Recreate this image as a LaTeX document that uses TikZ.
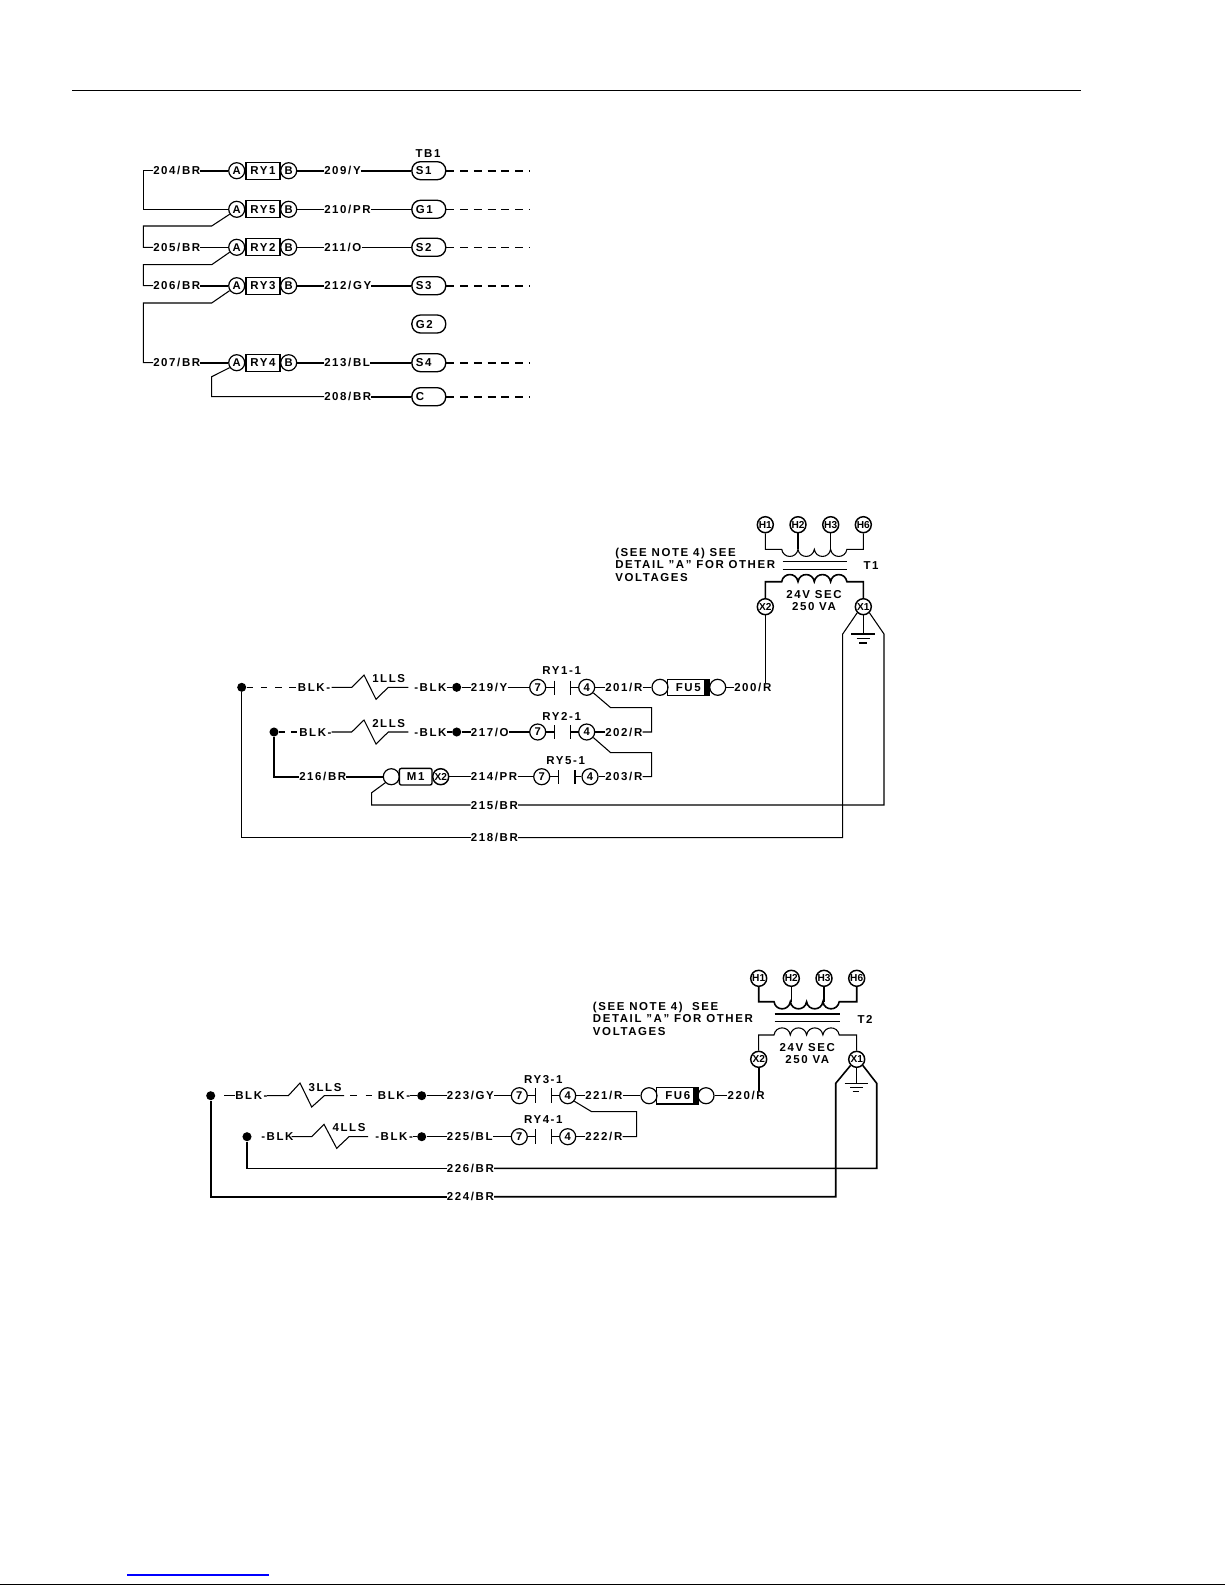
\documentclass[tikz,border=0pt]{standalone}
\usepackage{fontspec}
\setmainfont[LetterSpace=14]{Liberation Sans}
\newfontfamily\pinfont{Liberation Sans}
\newcommand{\coil}[1]{.. controls +(1.5,#1) and +(-1.5,#1) .. ++(16.3,0) .. controls +(1.5,#1) and +(-1.5,#1) .. ++(16.3,0) .. controls +(1.5,#1) and +(-1.5,#1) .. ++(16.3,0) .. controls +(1.5,#1) and +(-1.5,#1) .. ++(16.3,0)}

\begin{document}
\begin{tikzpicture}[
  x=0.75pt, y=-0.75pt,
  every node/.style={font=\fontsize{8.6}{9.4}\selectfont\bfseries, inner sep=0pt},
  wire/.style={line width=0.8pt},
  heavy/.style={line width=1.2pt},
  lbl/.style={anchor=west, text height=6pt, text depth=0pt},
  pin/.style={circle, draw, line width=0.9pt, minimum size=12pt, font=\fontsize{8.4}{9}\pinfont\bfseries, text height=5.8pt, text depth=0pt},
  hpin/.style={pin, line width=1.1pt, font=\fontsize{7.6}{8}\pinfont\bfseries, text height=5.4pt},
  relay/.style={rectangle, draw, line width=1pt, minimum width=25.5pt, minimum height=12.75pt, text height=6pt, text depth=0pt},
  pill/.style={rectangle, draw, line width=1pt, rounded corners=6.4pt, minimum height=13.5pt, text width=19.4pt, inner xsep=3pt, align=left, text height=6pt, text depth=0pt},
  dot/.style={circle, fill=black, minimum size=6.8pt},
  fuse/.style={rectangle, draw, line width=1pt, minimum width=31.5pt, minimum height=12.2pt, text height=6pt, text depth=0pt},
  band/.style={rectangle, fill=black, minimum width=3.6pt, minimum height=12.6pt},
  dashwire/.style={wire, dash pattern=on 6pt off 4.3pt},
  note/.style={anchor=north west, align=left},
]
\useasboundingbox (0,0) rectangle (1225,1585);

% Top rule and page foot
\coordinate (ruleA) at (72,90.5);
\coordinate (ruleB) at (1081,90.5);
\draw[wire] (ruleA) -- (ruleB);
\coordinate (linkA) at (127,1575);
\coordinate (linkB) at (269,1575);
\draw[blue, wire] (linkA) -- (linkB);
\coordinate (footA) at (0,1584.4);
\coordinate (footB) at (1225,1584.4);
\draw[wire] (footA) -- (footB);

% Relay block
\node (tb) at (428,154) {TB1};
\node[lbl] (w204) at (153,170.7) {204/BR};
\node[lbl] (w205) at (153,247.3) {205/BR};
\node[lbl] (w206) at (153,285.7) {206/BR};
\node[lbl] (w207) at (153,362.7) {207/BR};
\node[pin] (a1) at (236.7,170.7) {A};
\node[pin] (a5) at (236.7,209.3) {A};
\node[pin] (a2) at (236.7,247.3) {A};
\node[pin] (a3) at (236.7,285.7) {A};
\node[pin] (a4) at (236.7,362.7) {A};
\node[relay] (ry1) at (263,170.7) {RY1};
\node[relay] (ry5) at (263,209.3) {RY5};
\node[relay] (ry2) at (263,247.3) {RY2};
\node[relay] (ry3) at (263,285.7) {RY3};
\node[relay] (ry4) at (263,362.7) {RY4};
\node[pin] (b1) at (288.7,170.7) {B};
\node[pin] (b5) at (288.7,209.3) {B};
\node[pin] (b2) at (288.7,247.3) {B};
\node[pin] (b3) at (288.7,285.7) {B};
\node[pin] (b4) at (288.7,362.7) {B};
\node[lbl] (w209) at (324,170.7) {209/Y};
\node[lbl] (w210) at (324,209.3) {210/PR};
\node[lbl] (w211) at (324,247.3) {211/O};
\node[lbl] (w212) at (324,285.7) {212/GY};
\node[lbl] (w213) at (324,362.7) {213/BL};
\node[lbl] (w208) at (324,396.7) {208/BR};
\node[pill] (s1) at (428.8,170.7) {S1};
\node[pill] (g1) at (428.8,209.3) {G1};
\node[pill] (s2) at (428.8,247.3) {S2};
\node[pill] (s3) at (428.8,285.7) {S3};
\node[pill] (g2) at (428.8,324) {G2};
\node[pill] (s4) at (428.8,362.7) {S4};
\node[pill] (cc) at (428.8,396.7) {C};
\coordinate (e1) at (530,170.7);
\coordinate (e5) at (530,209.3);
\coordinate (e2) at (530,247.3);
\coordinate (e3) at (530,285.7);
\coordinate (e4) at (530,362.7);
\coordinate (e6) at (530,396.7);

\draw[heavy] (w204) -- (a1);
\draw[heavy] (b1) -- (w209);
\draw[heavy] (w209) -- (s1);
\draw[wire] (b5) -- (w210);
\draw[wire] (w210) -- (g1);
\draw[wire] (w205) -- (a2);
\draw[wire] (b2) -- (w211);
\draw[wire] (w211) -- (s2);
\draw[heavy] (w206) -- (a3);
\draw[heavy] (b3) -- (w212);
\draw[heavy] (w212) -- (s3);
\draw[heavy] (w207) -- (a4);
\draw[heavy] (b4) -- (w213);
\draw[heavy] (w213) -- (s4);
\draw[heavy] (w208) -- (cc);
\draw[wire] (w204.west) -- (143.3,170.7) |- (a5.west);
\draw[wire] (a5.215) -- (211.7,226) -- (143.3,226) |- (w205.west);
\draw[wire] (a2.215) -- (211.7,264.7) -- (143.3,264.7) |- (w206.west);
\draw[wire] (a3.215) -- (211.7,303) -- (143.3,303) |- (w207.west);
\draw[wire] (a4.215) -- (211.7,376.7) |- (w208.west);
\draw[dashwire, line width=1.2pt] (s1) -- (e1);
\draw[dashwire] (g1) -- (e5);
\draw[dashwire] (s2) -- (e2);
\draw[dashwire, line width=1.2pt] (s3) -- (e3);
\draw[dashwire, line width=1.2pt] (s4) -- (e4);
\draw[dashwire, line width=1.2pt] (cc) -- (e6);

% Transformer T1
\node[hpin] (h1) at (765.3,524.7) {H1};
\node[hpin] (h2) at (798,524.7) {H2};
\node[hpin] (h3) at (830.7,524.7) {H3};
\node[hpin] (h6) at (863.3,524.7) {H6};
\node[hpin] (x2) at (765.3,606.7) {X2};
\node[hpin] (x1) at (863.3,606.7) {X1};
\node[note] (n1) at (615,547.5) {(SEE NOTE 4) SEE\\DETAIL "A" FOR OTHER\\VOLTAGES};
\node (t1) at (871,566) {T1};
\node (sec1) at (814,594.7) {24V SEC};
\node (va1) at (814,606.7) {250 VA};
\coordinate (ca) at (781.7,549.3);
\coordinate (cb) at (781.7,581.7);
\coordinate (gnd1) at (863.3,634);
\coordinate (gl1) at (842.7,634);
\coordinate (gr1) at (884,634);
\draw[wire] (h1.south) |- (ca) \coil{9.5} -| (h6.south);
\draw[heavy] (h2.south) -- (h2.south |- ca);
\draw[wire] (h3.south) -- (h3.south |- ca);
\draw[wire] (782.7,561.3) -- (846.7,561.3);
\draw[wire] (782.7,569.3) -- (846.7,569.3);
\draw[heavy] (x2.north) |- (cb) \coil{-9.5} -| (x1.north);
\draw[wire] (x1.south) -- (gnd1);
\draw[wire] (851.3,634) -- (875.3,634);
\draw[wire] (856.6,638.3) -- (870,638.3);
\draw[heavy] (859.3,642.7) -- (867.3,642.7);

% Control row T1
\node[dot] (d1) at (241.7,687.3) {};
\node[dot] (d2) at (274,732) {};
\node[dot] (d3) at (456.7,687.3) {};
\node[dot] (d4) at (456.7,732) {};
\node[lbl] (blk1) at (297.7,687.3) {BLK-};
\node[lbl] (blk2) at (299,732) {BLK-};
\node[lbl] (blk3) at (414,687.3) {-BLK};
\node[lbl] (blk4) at (414,732) {-BLK};
\node (ls1) at (388.7,679) {1LLS};
\node (ls2) at (388.7,724) {2LLS};
\coordinate (z1a) at (331.7,687.3);
\coordinate (z1b) at (408.3,687.3);
\coordinate (z2a) at (331.7,732);
\coordinate (z2b) at (408.3,732);
\node[lbl] (w219) at (470.7,687.3) {219/Y};
\node[lbl] (w217) at (470.7,732) {217/O};
\node[lbl] (w216) at (299,776.7) {216/BR};
\node[lbl] (w214) at (470.7,776.7) {214/PR};
\node[lbl] (w215) at (470.7,805) {215/BR};
\node[lbl] (w218) at (470.7,837.7) {218/BR};
\node[pin] (c71) at (537.7,687.3) {7};
\node[pin] (c72) at (537.7,732) {7};
\node[pin] (c75) at (541.7,776.7) {7};
\node[pin] (c41) at (586.7,687.3) {4};
\node[pin] (c42) at (586.7,732) {4};
\node[pin] (c45) at (590,776.7) {4};
\node (k1) at (561.7,671) {RY1-1};
\node (k2) at (561.7,716) {RY2-1};
\node (k5) at (565.7,760.7) {RY5-1};
\coordinate (k1a) at (554.3,687.3);
\coordinate (k1b) at (570.7,687.3);
\coordinate (k2a) at (554.3,732);
\coordinate (k2b) at (570.7,732);
\coordinate (k5a) at (558.3,776.7);
\coordinate (k5b) at (575,776.7);
\node[lbl] (w201) at (605,687.3) {201/R};
\node[lbl] (w202) at (605,732) {202/R};
\node[lbl] (w203) at (605,776.7) {203/R};
\node[pin] (f5a) at (660,687.3) {};
\node[fuse] (fu5) at (688.3,687.3) {FU5\hspace{5pt}};
\node[band] (fu5b) at (706.8,687.3) {};
\node[pin] (f5b) at (717.7,687.3) {};
\node[lbl] (w200) at (734,687.3) {200/R};
\node[pin] (m1a) at (391.3,776.7) {};
\node[relay, rounded corners=1.5pt, minimum width=24.5pt, minimum height=12.5pt] (m1) at (415.7,776.7) {M1};
\node[hpin] (m1b) at (440.7,776.7) {X2};

\draw[dashwire, dash pattern=on 5pt off 5.7pt] (d1) -- (blk1);
\draw[wire] (z1a) -- (351.7,687.3) -- (364,675) -- (376,699.3) -- (388.3,687.3) -- (z1b);
\draw[wire] (blk3) -- (d3);
\draw[wire] (d3) -- (w219);
\draw[wire] (w219) -- (c71);
\draw[wire] (c71) -- (k1a);
\draw[wire] (k1a) ++(0,-6.7) -- ++(0,14);
\draw[wire] (k1b) ++(0,-6.7) -- ++(0,14);
\draw[wire] (k1b) -- (c41);
\draw[wire] (c41) -- (w201);
\draw[wire] (w201) -- (f5a);
\draw[wire] (f5b) -- (w200);
\draw[wire] (x2.south) -- (765.3,682.5);
\draw[wire] (c41.320) -- (610.7,707.7) -- (651.7,707.7) |- (w202.east);
\draw[dashwire, dash pattern=on 5pt off 4pt] (d2) -- (blk2);
\draw[wire] (z2a) -- (351.7,732) -- (364,720) -- (376,744) -- (388.3,732) -- (z2b);
\draw[wire] (blk4) -- (d4);
\draw[wire] (d4) -- (w217);
\draw[wire] (w217) -- (c72);
\draw[wire] (c72) -- (k2a);
\draw[wire] (k2a) ++(0,-6.7) -- ++(0,14);
\draw[wire] (k2b) ++(0,-6.7) -- ++(0,14);
\draw[wire] (k2b) -- (c42);
\draw[wire] (c42) -- (w202);
\draw[wire] (c42.320) -- (610.7,752.7) -- (651.7,752.7) |- (w203.east);
\draw[heavy] (d2) |- (w216.west);
\draw[heavy] (w216) -- (m1a);
\draw[wire] (m1b) -- (w214);
\draw[wire] (w214) -- (c75);
\draw[wire] (c75) -- (k5a);
\draw[wire] (k5a) ++(0,-6.7) -- ++(0,14);
\draw[wire] (k5b) ++(0,-6.7) -- ++(0,14);
\draw[wire] (k5b) -- (c45);
\draw[wire] (c45) -- (w203);
\draw[wire] (m1a.225) -- (371.7,792.7) |- (w215.west);
\draw[wire] (w215) -| (gr1) -- (x1.315);
\draw[wire] (d1) |- (w218.west);
\draw[wire] (w218) -| (gl1) -- (x1.225);

% Transformer T2
\node[hpin] (hh1) at (758.7,978.3) {H1};
\node[hpin] (hh2) at (791.3,978.3) {H2};
\node[hpin] (hh3) at (824,978.3) {H3};
\node[hpin] (hh6) at (856.7,978.3) {H6};
\node[hpin] (xx2) at (758.7,1059.3) {X2};
\node[hpin] (xx1) at (856.7,1059.3) {X1};
\node[note] (n2) at (592.7,1001.5) {(SEE NOTE 4)\ \ SEE\\DETAIL "A" FOR OTHER\\VOLTAGES};
\node (t2) at (865,1019) {T2};
\node (sec2) at (807.3,1047.3) {24V SEC};
\node (va2) at (807.3,1059.3) {250 VA};
\coordinate (cc1) at (774,1001.7);
\coordinate (cc2) at (774,1035);
\coordinate (gl2) at (835.7,1083.3);
\coordinate (gr2) at (876.7,1083.3);
\coordinate (gnd2) at (856.7,1083.3);
\draw[heavy] (hh1.south) |- (cc1) \coil{9.5} -| (hh6.south);
\draw[wire] (hh2.south) -- (hh2.south |- cc1);
\draw[wire] (hh3.south) -- (hh3.south |- cc1);
\draw[wire] (774.7,1014) -- (840,1014);
\draw[wire] (774.7,1021.7) -- (840,1021.7);
\draw[wire] (xx2.north) |- (cc2) \coil{-9.5} -| (xx1.north);
\draw[wire] (xx1.south) -- (gnd2);
\draw[wire] (844.7,1083.3) -- (867.7,1083.3);
\draw[wire] (850,1087.3) -- (862.7,1087.3);
\draw[wire] (852.7,1091.7) -- (859.3,1091.7);

% Control row T2
\node[dot] (dd1) at (210.7,1095.7) {};
\node[dot] (dd2) at (247,1136.7) {};
\node[dot] (dd3) at (421.7,1095.7) {};
\node[dot] (dd4) at (421.7,1136.7) {};
\node[lbl] (bk1) at (235,1095.7) {BLK-};
\node[lbl] (bk2) at (261,1136.7) {-BLK};
\node[lbl] (bk3) at (377.7,1095.7) {BLK-};
\node[lbl] (bk4) at (375,1136.7) {-BLK-};
\node (ls3) at (325,1087.7) {3LLS};
\node (ls4) at (349,1128) {4LLS};
\coordinate (z3d) at (224,1095.7);
\coordinate (z3a) at (267,1095.7);
\coordinate (z3b) at (344,1095.7);
\coordinate (z3c) at (350,1095.7);
\coordinate (z4a) at (291.7,1136.7);
\coordinate (z4b) at (368,1136.7);
\node[lbl] (w223) at (446.7,1095.7) {223/GY};
\node[lbl] (w225) at (446.7,1136.7) {225/BL};
\node[lbl] (w226) at (446.7,1168.3) {226/BR};
\node[lbl] (w224) at (446.7,1196.7) {224/BR};
\node[pin] (c73) at (519.3,1095.7) {7};
\node[pin] (c74) at (519.3,1136.7) {7};
\node[pin] (c43) at (567.7,1095.7) {4};
\node[pin] (c44) at (567.7,1136.7) {4};
\node (k3) at (543.3,1079.3) {RY3-1};
\node (k4) at (543.3,1120) {RY4-1};
\coordinate (k3a) at (535.7,1095.7);
\coordinate (k3b) at (551.7,1095.7);
\coordinate (k4a) at (535.7,1136.7);
\coordinate (k4b) at (551.7,1136.7);
\node[lbl] (w221) at (585,1095.7) {221/R};
\node[lbl] (w222) at (585,1136.7) {222/R};
\node[pin] (f6a) at (649,1095.7) {};
\node[fuse] (fu6) at (677.8,1095.7) {FU6\hspace{5pt}};
\node[band] (fu6b) at (695.8,1095.7) {};
\node[pin] (f6b) at (706,1095.7) {};
\node[lbl] (w220) at (727.3,1095.7) {220/R};

\draw[wire] (z3d) -- (bk1);
\draw[wire] (z3a) -- (288.3,1095.7) -- (300,1083) -- (311.7,1107) -- (324.3,1095.7) -- (z3b);
\draw[dashwire, dash pattern=on 5pt off 6.7pt] (z3c) -- (bk3);
\draw[wire] (bk3) -- (dd3);
\draw[wire] (dd3) -- (w223);
\draw[wire] (w223) -- (c73);
\draw[wire] (c73) -- (k3a);
\draw[wire] (k3a) ++(0,-7.5) -- ++(0,15);
\draw[wire] (k3b) ++(0,-7.5) -- ++(0,15);
\draw[wire] (k3b) -- (c43);
\draw[wire] (c43) -- (w221);
\draw[wire] (w221) -- (f6a);
\draw[wire] (f6b) -- (w220);
\draw[heavy] (xx2.south) -- (758.7,1090.7);
\draw[wire] (c43.320) -- (591.7,1111.7) -- (636.7,1111.7) |- (w222.east);
\draw[wire] (z4a) -- (311.7,1136.7) -- (324,1124.3) -- (336.7,1148.3) -- (349,1136.7) -- (z4b);
\draw[wire] (bk4) -- (dd4);
\draw[wire] (dd4) -- (w225);
\draw[wire] (w225) -- (c74);
\draw[wire] (c74) -- (k4a);
\draw[wire] (k4a) ++(0,-7.5) -- ++(0,15);
\draw[wire] (k4b) ++(0,-7.5) -- ++(0,15);
\draw[wire] (k4b) -- (c44);
\draw[wire] (c44) -- (w222);
\draw[heavy] (dd2) |- (w226.west);
\draw[heavy] (w226) -| (gr2) -- (xx1.315);
\draw[heavy] (dd1) |- (w224.west);
\draw[heavy] (w224) -| (gl2) -- (xx1.225);

\end{tikzpicture}
\end{document}
